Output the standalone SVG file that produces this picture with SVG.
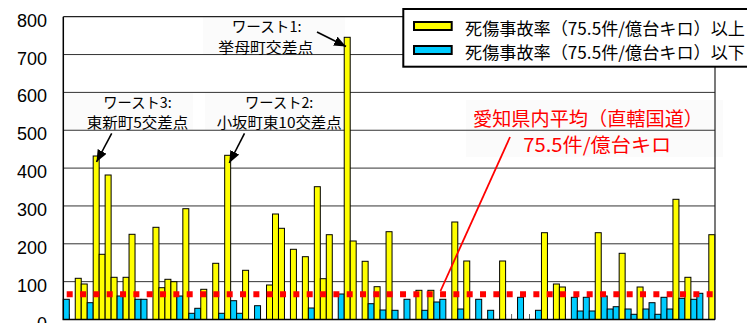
<svg xmlns="http://www.w3.org/2000/svg" width="747" height="323" viewBox="0 0 747 323">
<style>
.grid{stroke:#333;stroke-width:1;fill:none}
.y{fill:#FFFF00;stroke:#000;stroke-width:1}
.b{fill:#00CCFF;stroke:#000;stroke-width:1}
.ax{font-family:"Liberation Sans",Arial,sans-serif;font-size:18px;fill:#000;text-anchor:end}
.jp{font-family:"Noto Sans CJK JP","Noto Sans",sans-serif;fill:#000}
.lab{font-size:14.5px;text-anchor:middle}
.red{fill:#FF0000;font-size:19px}
.leg{font-size:17px}
.box{fill:#fbfbfb;stroke:none}
.tick{stroke:#666;stroke-width:1}
</style>
<defs>
<marker id="ah" markerUnits="userSpaceOnUse" markerWidth="13" markerHeight="11" refX="12" refY="5" orient="auto">
<path d="M0,0 L12,5 L0,10 z" fill="#000"/>
</marker>
</defs>
<rect x="0" y="0" width="747" height="323" fill="#fff"/>
<g id="label-boxes">
<rect class="box" x="203" y="17" width="142" height="38"/>
<rect class="box" x="64" y="93" width="129" height="37"/>
<rect class="box" x="205" y="93" width="140" height="37"/>
<rect class="box" x="466" y="100" width="257" height="57"/>
</g>
<g id="gridlines">
<line class="grid" x1="63.3" y1="54.55" x2="715" y2="54.55"/>
<line class="grid" x1="63.3" y1="92.4" x2="715" y2="92.4"/>
<line class="grid" x1="63.3" y1="130.25" x2="715" y2="130.25"/>
<line class="grid" x1="63.3" y1="168.1" x2="715" y2="168.1"/>
<line class="grid" x1="63.3" y1="205.95" x2="715" y2="205.95"/>
<line class="grid" x1="63.3" y1="243.8" x2="715" y2="243.8"/>
<line class="grid" x1="63.3" y1="281.65" x2="715" y2="281.65"/>
</g>
<g id="ticks">
<line class="tick" x1="505.6" y1="314" x2="505.6" y2="319.5"/>
<line class="tick" x1="511.58" y1="314" x2="511.58" y2="319.5"/>
<line class="tick" x1="529.51" y1="314" x2="529.51" y2="319.5"/>
<line class="tick" x1="547.44" y1="314" x2="547.44" y2="319.5"/>
<line class="tick" x1="565.37" y1="314" x2="565.37" y2="319.5"/>
<line class="tick" x1="69.28" y1="314" x2="69.28" y2="319.5"/>
</g>
<g id="bars">
<rect class="b" x="63.30" y="299.3" width="5.98" height="20.2"/>
<rect class="y" x="75.25" y="278.3" width="5.98" height="41.2"/>
<rect class="y" x="81.23" y="284" width="5.98" height="35.5"/>
<rect class="b" x="87.21" y="302.7" width="5.98" height="16.8"/>
<rect class="y" x="93.19" y="156" width="5.98" height="163.5"/>
<rect class="y" x="99.16" y="254.3" width="5.98" height="65.2"/>
<rect class="y" x="105.14" y="175" width="5.98" height="144.5"/>
<rect class="y" x="111.12" y="277.3" width="5.98" height="42.2"/>
<rect class="b" x="117.09" y="296" width="5.98" height="23.5"/>
<rect class="y" x="123.07" y="277.3" width="5.98" height="42.2"/>
<rect class="y" x="129.05" y="234.3" width="5.98" height="85.2"/>
<rect class="b" x="135.02" y="299.3" width="5.98" height="20.2"/>
<rect class="b" x="141.00" y="299.3" width="5.98" height="20.2"/>
<rect class="y" x="152.96" y="227.3" width="5.98" height="92.2"/>
<rect class="y" x="158.93" y="287.7" width="5.98" height="31.8"/>
<rect class="y" x="164.91" y="279.3" width="5.98" height="40.2"/>
<rect class="y" x="170.89" y="281.7" width="5.98" height="37.8"/>
<rect class="b" x="176.86" y="296" width="5.98" height="23.5"/>
<rect class="y" x="182.84" y="208.7" width="5.98" height="110.8"/>
<rect class="b" x="188.82" y="313.3" width="5.98" height="6.2"/>
<rect class="b" x="194.79" y="308.3" width="5.98" height="11.2"/>
<rect class="y" x="200.77" y="289.3" width="5.98" height="30.2"/>
<rect class="y" x="212.73" y="263.3" width="5.98" height="56.2"/>
<rect class="b" x="218.70" y="313.3" width="5.98" height="6.2"/>
<rect class="y" x="224.68" y="155.3" width="5.98" height="164.2"/>
<rect class="b" x="230.66" y="300.7" width="5.98" height="18.8"/>
<rect class="b" x="236.63" y="313.3" width="5.98" height="6.2"/>
<rect class="y" x="242.61" y="270.3" width="5.98" height="49.2"/>
<rect class="b" x="254.56" y="305.7" width="5.98" height="13.8"/>
<rect class="y" x="266.52" y="285" width="5.98" height="34.5"/>
<rect class="y" x="272.50" y="214" width="5.98" height="105.5"/>
<rect class="y" x="278.47" y="228.3" width="5.98" height="91.2"/>
<rect class="y" x="290.43" y="249.3" width="5.98" height="70.2"/>
<rect class="y" x="302.38" y="256.7" width="5.98" height="62.8"/>
<rect class="b" x="308.36" y="308" width="5.98" height="11.5"/>
<rect class="y" x="314.33" y="186.7" width="5.98" height="132.8"/>
<rect class="y" x="320.31" y="278.7" width="5.98" height="40.8"/>
<rect class="y" x="326.29" y="234.7" width="5.98" height="84.8"/>
<rect class="b" x="338.24" y="294" width="5.98" height="25.5"/>
<rect class="y" x="344.22" y="37.3" width="5.98" height="282.2"/>
<rect class="y" x="350.20" y="241" width="5.98" height="78.5"/>
<rect class="y" x="362.15" y="261.3" width="5.98" height="58.2"/>
<rect class="b" x="368.13" y="303.7" width="5.98" height="15.8"/>
<rect class="y" x="374.10" y="286.7" width="5.98" height="32.8"/>
<rect class="b" x="380.08" y="310" width="5.98" height="9.5"/>
<rect class="y" x="386.06" y="231.7" width="5.98" height="87.8"/>
<rect class="b" x="392.04" y="310.3" width="5.98" height="9.2"/>
<rect class="b" x="403.99" y="299.3" width="5.98" height="20.2"/>
<rect class="y" x="415.94" y="290.3" width="5.98" height="29.2"/>
<rect class="b" x="421.92" y="310.3" width="5.98" height="9.2"/>
<rect class="y" x="427.90" y="290.3" width="5.98" height="29.2"/>
<rect class="b" x="433.87" y="302" width="5.98" height="17.5"/>
<rect class="b" x="439.85" y="299.3" width="5.98" height="20.2"/>
<rect class="y" x="451.81" y="222" width="5.98" height="97.5"/>
<rect class="b" x="457.78" y="309" width="5.98" height="10.5"/>
<rect class="y" x="463.76" y="261" width="5.98" height="58.5"/>
<rect class="b" x="475.71" y="299.3" width="5.98" height="20.2"/>
<rect class="b" x="487.67" y="310.3" width="5.98" height="9.2"/>
<rect class="y" x="499.62" y="261" width="5.98" height="58.5"/>
<rect class="b" x="517.55" y="297.3" width="5.98" height="22.2"/>
<rect class="b" x="535.48" y="310.3" width="5.98" height="9.2"/>
<rect class="y" x="541.46" y="232.7" width="5.98" height="86.8"/>
<rect class="y" x="553.41" y="284" width="5.98" height="35.5"/>
<rect class="y" x="559.39" y="287" width="5.98" height="32.5"/>
<rect class="b" x="571.35" y="297.3" width="5.98" height="22.2"/>
<rect class="b" x="577.32" y="311" width="5.98" height="8.5"/>
<rect class="b" x="583.30" y="297.3" width="5.98" height="22.2"/>
<rect class="b" x="589.28" y="311" width="5.98" height="8.5"/>
<rect class="y" x="595.25" y="232.7" width="5.98" height="86.8"/>
<rect class="b" x="601.23" y="296" width="5.98" height="23.5"/>
<rect class="b" x="607.21" y="309" width="5.98" height="10.5"/>
<rect class="b" x="613.18" y="306.7" width="5.98" height="12.8"/>
<rect class="y" x="619.16" y="253.3" width="5.98" height="66.2"/>
<rect class="b" x="625.14" y="309" width="5.98" height="10.5"/>
<rect class="b" x="631.12" y="314.3" width="5.98" height="5.2"/>
<rect class="y" x="637.09" y="287" width="5.98" height="32.5"/>
<rect class="b" x="643.07" y="309" width="5.98" height="10.5"/>
<rect class="b" x="649.05" y="302.7" width="5.98" height="16.8"/>
<rect class="b" x="655.02" y="314.3" width="5.98" height="5.2"/>
<rect class="b" x="661.00" y="297.3" width="5.98" height="22.2"/>
<rect class="b" x="666.98" y="309" width="5.98" height="10.5"/>
<rect class="y" x="672.95" y="199.3" width="5.98" height="120.2"/>
<rect class="b" x="678.93" y="298.3" width="5.98" height="21.2"/>
<rect class="y" x="684.91" y="277.3" width="5.98" height="42.2"/>
<rect class="b" x="690.89" y="299.3" width="5.98" height="20.2"/>
<rect class="b" x="696.86" y="293.3" width="5.98" height="26.2"/>
<rect class="y" x="708.82" y="234.7" width="5.98" height="84.8"/>
</g>
<g id="axes">
<path d="M63.3,16.7 H715 V319.5" fill="none" stroke="#222" stroke-width="1.2"/>
<path d="M63.3,16.7 V319.5 H715" fill="none" stroke="#000" stroke-width="1.5"/>
</g>
<g id="y-labels">
<text class="ax" x="47" y="26.7">800</text>
<text class="ax" x="47" y="64.55">700</text>
<text class="ax" x="47" y="102.4">600</text>
<text class="ax" x="47" y="140.25">500</text>
<text class="ax" x="47" y="178.1">400</text>
<text class="ax" x="47" y="215.95">300</text>
<text class="ax" x="47" y="253.8">200</text>
<text class="ax" x="47" y="291.65">100</text>
<text class="ax" x="47" y="329.5">0</text>
</g>
<g id="average-line">
<line x1="66.7" y1="294.3" x2="713" y2="294.3" stroke="#FF0000" stroke-width="6" stroke-dasharray="6 7.333"/>
</g>
<g id="connectors">
<line x1="440.5" y1="291" x2="510" y2="137" stroke="#FF0000" stroke-width="1.8"/>
<line x1="317" y1="32" x2="346" y2="46.5" stroke="#000" stroke-width="1.6" marker-end="url(#ah)"/>
<line x1="111.7" y1="133.3" x2="96.5" y2="162" stroke="#000" stroke-width="1.6" marker-end="url(#ah)"/>
<line x1="244.5" y1="133.3" x2="229.3" y2="163" stroke="#000" stroke-width="1.6" marker-end="url(#ah)"/>
</g>
<g id="worst1">
<text class="jp lab" x="266.7" y="31.5" textLength="70" lengthAdjust="spacingAndGlyphs">ワースト1:</text>
<text class="jp lab" x="265.8" y="53" textLength="95" lengthAdjust="spacingAndGlyphs">挙母町交差点</text>
</g>
<g id="worst3">
<text class="jp lab" x="137.5" y="108" textLength="68.4" lengthAdjust="spacingAndGlyphs">ワースト3:</text>
<text class="jp lab" x="137.5" y="128" textLength="101.6" lengthAdjust="spacingAndGlyphs">東新町5交差点</text>
</g>
<g id="worst2">
<text class="jp lab" x="279.2" y="108" textLength="68.3" lengthAdjust="spacingAndGlyphs">ワースト2:</text>
<text class="jp lab" x="279.2" y="128" textLength="125" lengthAdjust="spacingAndGlyphs">小坂町東10交差点</text>
</g>
<g id="average-label">
<text class="jp red" x="473" y="126" textLength="230" lengthAdjust="spacingAndGlyphs">愛知県内平均（直轄国道）</text>
<text class="jp red" x="523.3" y="152" textLength="148" lengthAdjust="spacingAndGlyphs">75.5件/億台キロ</text>
</g>
<g id="legend">
<rect x="403.3" y="9" width="346" height="57.7" fill="#fff" stroke="#000" stroke-width="2"/>
<rect x="414" y="22" width="37.7" height="8" fill="#FFFF00" stroke="#000" stroke-width="2"/>
<rect x="414" y="46" width="37.7" height="8" fill="#00CCFF" stroke="#000" stroke-width="2"/>
<text class="jp leg" x="465" y="35" textLength="280" lengthAdjust="spacingAndGlyphs">死傷事故率（75.5件/億台キロ）以上</text>
<text class="jp leg" x="465" y="58.5" textLength="280" lengthAdjust="spacingAndGlyphs">死傷事故率（75.5件/億台キロ）以下</text>
</g>
</svg>
